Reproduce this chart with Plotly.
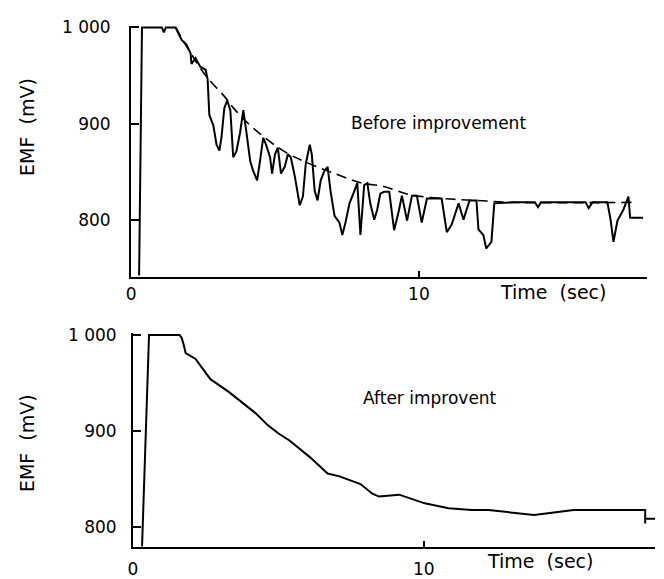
import plotly.graph_objects as go

# ---- Data: "Before improvement" (time s, EMF mV) ----
before_t = [0.28, 0.38, 1.07, 1.14, 1.21, 1.55, 1.66, 1.76, 1.83, 1.93, 2.07, 2.10, 2.24, 2.41, 2.59,
            2.66, 2.72, 2.86, 2.97, 3.07, 3.14, 3.24, 3.34, 3.45, 3.55, 3.66, 3.79, 3.90, 4.00, 4.14,
            4.24, 4.38, 4.48, 4.59, 4.69, 4.83, 4.90, 5.00, 5.10, 5.21, 5.34, 5.45, 5.55, 5.69, 5.86,
            5.97, 6.07, 6.21, 6.28, 6.38, 6.48, 6.59, 6.72, 6.83, 6.93, 7.07, 7.24, 7.34, 7.45, 7.59,
            7.76, 7.86, 7.97, 8.10, 8.21, 8.31, 8.45, 8.55, 8.66, 8.79, 8.97, 9.14, 9.31, 9.41, 9.59,
            9.76, 9.93, 10.10, 10.28, 10.79, 10.97, 11.14, 11.38, 11.55, 11.76, 12.00, 12.07, 12.24,
            12.34, 12.52, 12.62, 13.28, 14.03, 14.14, 14.24, 15.79, 15.90, 16.03, 16.55, 16.66, 16.76,
            16.90, 17.10, 17.28, 17.34, 17.79]
before_v = [742, 1000, 1000, 995, 1000, 1000, 993, 987, 985, 982, 973, 962, 968, 959, 956,
            946, 909, 898, 878, 872, 885, 916, 924, 914, 865, 871, 891, 914, 893, 861,
            851, 841, 861, 885, 878, 865, 848, 868, 875, 848, 855, 868, 865, 845, 815,
            824, 858, 878, 868, 830, 820, 841, 851, 855, 830, 804, 797, 784, 797, 817,
            830, 838, 784, 836, 838, 817, 800, 810, 827, 829, 829, 789, 810, 825, 799,
            825, 825, 797, 822, 822, 787, 795, 817, 800, 820, 820, 790, 784,
            770, 777, 817, 818, 818, 813, 818, 818, 812, 818, 818, 800, 777,
            799, 810, 824, 802, 802]

# dashed envelope curve
trend_t = [1.55, 2.10, 2.62, 3.28, 3.62, 4.41, 5.38, 6.07, 6.90, 8.03, 8.72, 9.69, 10.86, 12.00, 13.28, 17.45]
trend_v = [1000, 972, 949, 927, 914, 891, 870, 860, 850, 838, 835, 826, 822, 820, 818, 818]

# ---- Data: "After improvent" ----
after_t = [0.31, 0.55, 1.60, 1.67, 1.74, 1.81, 2.15, 2.66, 3.28, 4.20, 4.64, 4.98, 5.39, 6.08, 6.69,
           7.10, 7.82, 8.23, 8.46, 9.15, 10.03, 10.85, 11.64, 12.22, 13.79, 15.15, 17.61, 17.61, 17.61, 17.95]
after_v = [780, 1000, 1000, 997, 990, 981, 975, 954, 941, 919, 906, 898, 890, 873, 856,
           853, 845, 835, 832, 834, 825, 820, 818, 818, 813, 818, 818, 804, 809, 809]

y_tickvals = [800, 900, 1000]
y_ticktext = ["800", "900", "1 000"]
x_tickvals = [0, 10]
x_ticktext = ["0", "10"]

W, H = 664, 579
FONT = "DejaVu Sans"

fig = go.Figure()
fig.add_trace(go.Scatter(x=before_t, y=before_v, mode="lines",
                         line=dict(color="black", width=2), xaxis="x", yaxis="y", showlegend=False))
fig.add_trace(go.Scatter(x=trend_t, y=trend_v, mode="lines", line_shape="spline",
                         line=dict(color="black", width=1.6, dash="10px,6px"),
                         xaxis="x", yaxis="y", showlegend=False))
fig.add_trace(go.Scatter(x=after_t, y=after_v, mode="lines",
                         line=dict(color="black", width=2), xaxis="x2", yaxis="y2", showlegend=False))

axis_common = dict(showgrid=False, zeroline=False, showline=True, linecolor="black", linewidth=2,
                   ticks="inside", tickcolor="black", tickwidth=1.5,
                   tickfont=dict(family=FONT, size=17, color="black"))

fig.update_layout(
    width=W, height=H,
    margin=dict(l=0, r=0, t=0, b=0),
    paper_bgcolor="white", plot_bgcolor="white",
    xaxis=dict(domain=[127 / W, 647 / W], range=[0, 17.93], anchor="y",
               tickvals=x_tickvals, ticktext=x_ticktext, ticklen=6, ticklabelstandoff=0, **axis_common),
    yaxis=dict(domain=[1 - 276 / H, 1 - 18 / H], range=[740, 1002], anchor="x",
               tickvals=y_tickvals, ticktext=y_ticktext, ticklen=8, ticklabelstandoff=15, **axis_common),
    xaxis2=dict(domain=[129 / W, 655 / W], range=[0, 17.95], anchor="y2",
                tickvals=x_tickvals, ticktext=x_ticktext, ticklen=6, ticklabelstandoff=6, **axis_common),
    yaxis2=dict(domain=[1 - 552 / H, 1 - 333 / H], range=[780, 1002], anchor="x2",
                tickvals=y_tickvals, ticktext=y_ticktext, ticklen=8, ticklabelstandoff=11, **axis_common),
)

def ann(text, x, y, size=17, angle=0):
    fig.add_annotation(text=text, x=x / W, y=1 - y / H, xref="paper", yref="paper",
                       showarrow=False, textangle=angle, xanchor="center", yanchor="middle",
                       font=dict(family=FONT, size=size, color="black"))

ann("Before improvement", 437, 118, 17)
ann("After improvent", 428, 400, 17)
ann("Time  (sec)", 552, 291, 19)
ann("Time  (sec)", 539, 567, 19)
ann("EMF  (mV)", 22, 122, 19, -90)
ann("EMF  (mV)", 22, 446, 19, -90)

fig.write_html("out.html")
